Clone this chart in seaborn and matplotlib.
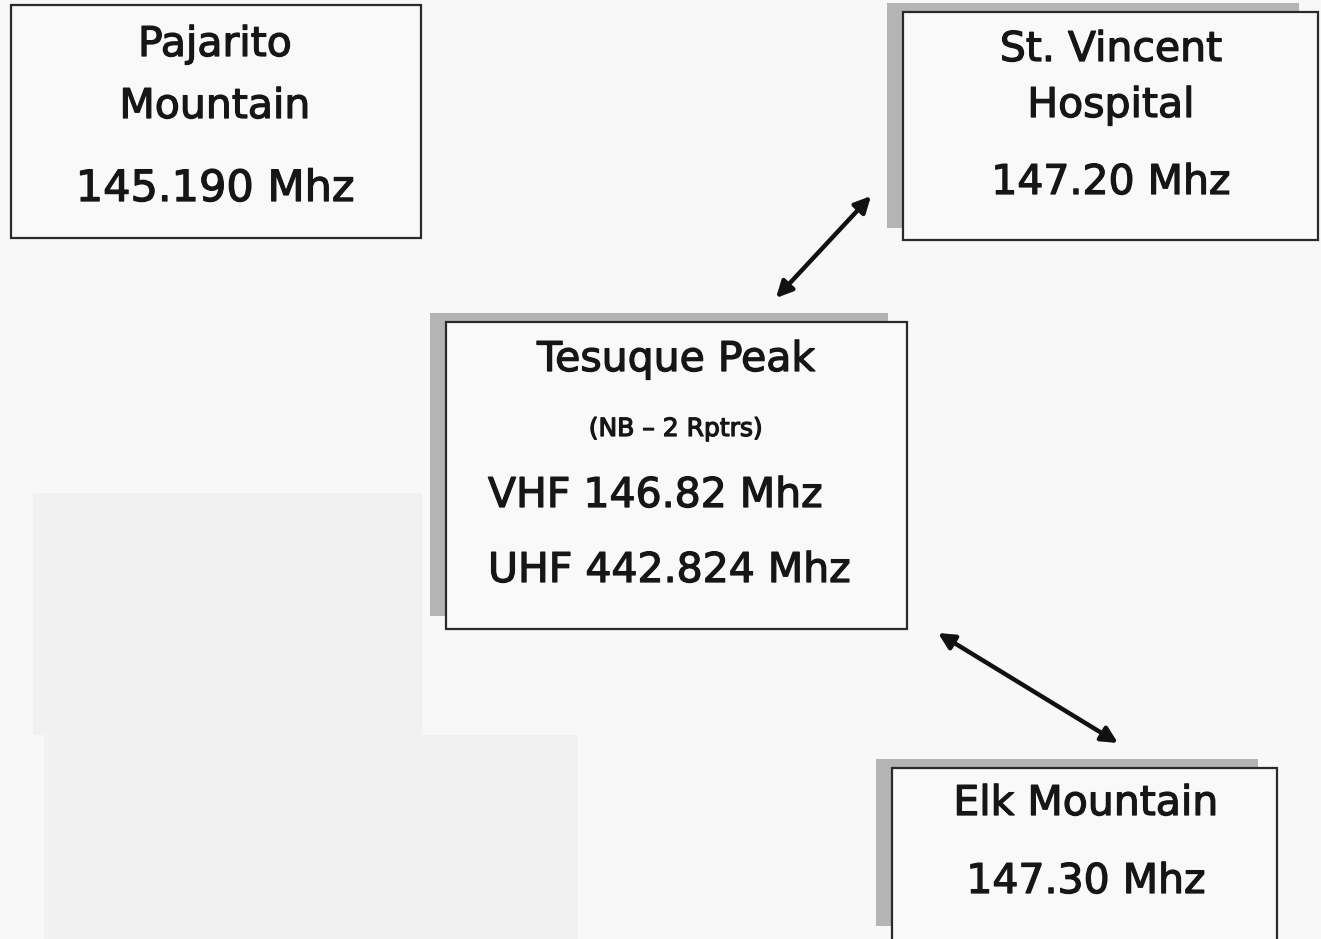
import matplotlib
matplotlib.use("Agg")
import matplotlib.pyplot as plt
import matplotlib.patheffects as pe
import seaborn as sns
from matplotlib.patches import Rectangle

# ---- data ----
site_names = ["Pajarito Mountain", "St. Vincent Hospital", "Tesuque Peak", "Elk Mountain"]
title_lines = [["Pajarito", "Mountain"], ["St. Vincent", "Hospital"], ["Tesuque Peak"], ["Elk Mountain"]]
note_lines = ["", "", "(NB – 2 Rptrs)", ""]
freq_lines = [["145.190 Mhz"], ["147.20 Mhz"], ["VHF 146.82 Mhz", "UHF 442.824 Mhz"], ["147.30 Mhz"]]
links = [("Tesuque Peak", "St. Vincent Hospital"), ("Tesuque Peak", "Elk Mountain")]

# ---- layout (pixel coordinates) ----
boxes = {  # x0, y0, x1, y1
    "Pajarito Mountain": (11, 5, 421, 238),
    "St. Vincent Hospital": (903, 12, 1318, 240),
    "Tesuque Peak": (446, 322, 907, 629),
    "Elk Mountain": (892, 768, 1277, 950),
}
shadow_box = {  # x0, y0, x1, y1 of the grey offset shadow
    "St. Vincent Hospital": (887, 3, 1299, 228),
    "Tesuque Peak": (430, 313, 888, 616),
    "Elk Mountain": (876, 759, 1258, 926),
}
title_base = {"Pajarito Mountain": [56, 118], "St. Vincent Hospital": [61, 117],
              "Tesuque Peak": [371], "Elk Mountain": [815]}
note_base = {"Tesuque Peak": 436}
freq_base = {"Pajarito Mountain": [201], "St. Vincent Hospital": [194],
             "Tesuque Peak": [507, 582], "Elk Mountain": [893]}
text_cx = {"Pajarito Mountain": 215, "St. Vincent Hospital": 1111,
           "Tesuque Peak": 676, "Elk Mountain": 1086}
arrow_ends = {
    ("Tesuque Peak", "St. Vincent Hospital"): ((776, 298), (871, 196)),
    ("Tesuque Peak", "Elk Mountain"): ((938, 633), (1118, 743)),
}

sns.set_theme(style="white")
plt.rcParams["font.family"] = ["DejaVu Sans"]

W, H = 1321, 939
fig = plt.figure(figsize=(W / 100, H / 100), dpi=100)
fig.patch.set_facecolor("#f8f8f8")
ax = fig.add_axes([0, 0, 1, 1])
ax.set_xlim(0, W)
ax.set_ylim(H, 0)
ax.axis("off")
ax.set_facecolor("#f8f8f8")

# faint scanned patches
ax.add_patch(Rectangle((33, 493), 389, 242, facecolor="#f1f1f1", edgecolor="none", zorder=0))
ax.add_patch(Rectangle((44, 735), 534, 210, facecolor="#f1f1f1", edgecolor="none", zorder=0))

txtc = "#161616"
thick = [pe.withStroke(linewidth=0.9, foreground=txtc)]
big = 29.5
for i, name in enumerate(site_names):
    x0, y0, x1, y1 = boxes[name]
    if name in shadow_box:
        sx0, sy0, sx1, sy1 = shadow_box[name]
        ax.add_patch(Rectangle((sx0, sy0), sx1 - sx0, sy1 - sy0,
                               facecolor="#b4b4b4", edgecolor="none", zorder=1))
    ax.add_patch(Rectangle((x0, y0), x1 - x0, y1 - y0, facecolor="#f9f9f9",
                           edgecolor="#2a2a2a", linewidth=1.6, zorder=2))
    cx = text_cx[name]
    for line, yb in zip(title_lines[i], title_base[name]):
        ax.text(cx, yb, line, ha="center", va="baseline", fontsize=big, color=txtc,
                zorder=3, path_effects=thick)
    if note_lines[i]:
        ax.text(cx, note_base[name], note_lines[i], ha="center", va="baseline",
                fontsize=18, color=txtc, zorder=3, path_effects=thick)
    if len(freq_lines[i]) > 1:
        for line, yb in zip(freq_lines[i], freq_base[name]):
            ax.text(488, yb, line, ha="left", va="baseline", fontsize=big, color=txtc,
                    zorder=3, path_effects=thick)
    else:
        for line, yb in zip(freq_lines[i], freq_base[name]):
            ax.text(cx, yb, line, ha="center", va="baseline",
                    fontsize=31 if name == "Pajarito Mountain" else big, color=txtc,
                    zorder=3, path_effects=thick)

for a, b in links:
    p0, p1 = arrow_ends[(a, b)]
    ax.annotate("", xy=p1, xytext=p0,
                arrowprops=dict(arrowstyle="<|-|>", color="#111111", lw=3.2,
                                mutation_scale=24, shrinkA=0, shrinkB=0), zorder=4)

fig.savefig("out.png", dpi=100, facecolor=fig.get_facecolor())
